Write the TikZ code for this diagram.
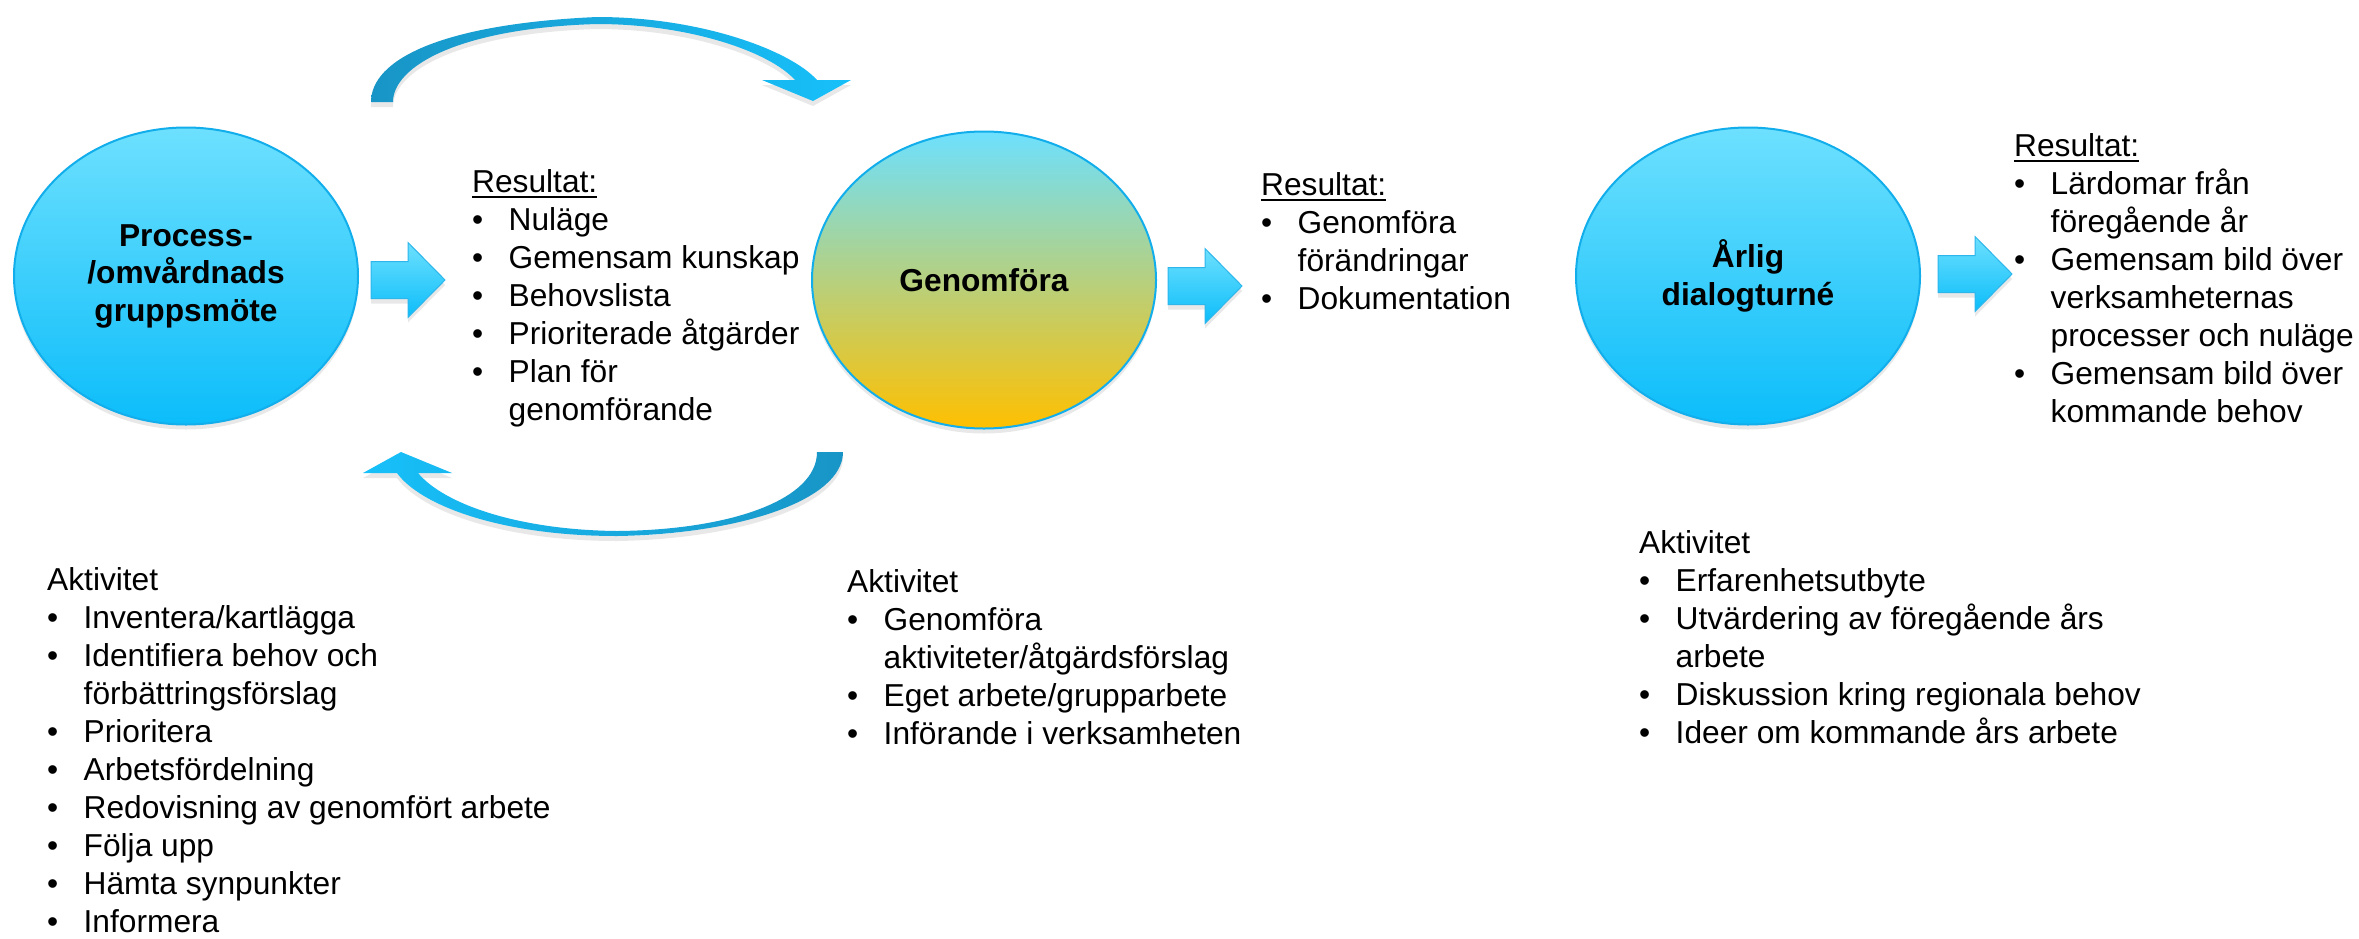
\documentclass[tikz,border=0pt]{standalone}
\usepackage{fontspec}
\setmainfont{Liberation Sans}
\usetikzlibrary{shapes.geometric,shadows}
\definecolor{cyTop}{HTML}{6DE0FE}
\definecolor{cyBot}{HTML}{0CBDFA}
\definecolor{cyLine}{HTML}{12AEEC}
\definecolor{goldBot}{HTML}{FFC000}
\definecolor{midG}{HTML}{C4D3B8}
\definecolor{arcDark}{HTML}{1895C6}
\definecolor{arcMid}{HTML}{4FCCF3}
\definecolor{arcBright}{HTML}{17C0FA}
\definecolor{arLine}{HTML}{2CB6EC}
\newcommand\myul[1]{\setbox0\hbox{#1}\rlap{\rule[-5.5pt]{\wd0}{2pt}}\box0}
\newcommand\bl{\makebox[36.5pt][l]{\textbullet}}
\newcommand\ind{\hspace*{36.5pt}}
\tikzset{
  blk/.style={anchor=base west, inner sep=0pt, font=\fontsize{31.7}{38}\selectfont},
  softshadow/.style={drop shadow={shadow xshift=0pt, shadow yshift=-5pt, opacity=0.18}},
  bubble/.style={ellipse, draw=cyLine, line width=2pt, top color=cyTop, bottom color=cyBot,
    minimum width=344pt, minimum height=297pt, inner sep=0pt, align=center,
    font=\fontsize{31.7}{37.5}\selectfont\bfseries, softshadow},
  goldbubble/.style={bubble, top color=cyTop, middle color=midG, bottom color=goldBot},
  barrow/.style={top color=cyTop, bottom color=cyBot, draw=arLine, line width=1pt, softshadow},
  blockarrow/.pic={\path[barrow] (0,-18.5) -- (37,-18.5) -- (37,-37.5) -- (74,0) -- (37,37.5) -- (37,18.5) -- (0,18.5) -- cycle;},
  toparc/.style={left color=arcDark, middle color=arcMid, right color=arcBright, softshadow},
  botarc/.style={left color=arcBright, middle color=arcMid, right color=arcDark, softshadow}
}
\begin{document}
\begin{tikzpicture}[x=1pt,y=-1pt]
\fill[white] (0,0) rectangle (2359,938);
\useasboundingbox (0,0) rectangle (2359,938);

% ellipses
\node[bubble] (p1) at (186,276) {Process-\\/omvårdnads\\gruppsmöte};
\node[goldbubble] (p2) at (984,280) {Genomföra};
\node[bubble] (p3) at (1748,276) {Årlig\\dialogturné};

% block arrows
\pic at (371,280) {blockarrow};
\pic at (1168,286) {blockarrow};
\pic at (1938,274) {blockarrow};

% curved arrows
\path[toparc] (371,102) .. controls (371,60) and (440,24) .. (597,17)
  .. controls (700,17) and (790,50) .. (817,80) -- (851,80) -- (813,101) -- (762,80) -- (795,80)
  .. controls (770,52) and (690,24) .. (597,24) .. controls (460,28) and (393,66) .. (393,102) -- cycle;
\path[botarc] (843,452) .. controls (843,500) and (740,534) .. (617,536)
  .. controls (500,536) and (420,505) .. (397,473) -- (363,473) -- (401,452) -- (452,473) -- (418,473)
  .. controls (445,505) and (520,530) .. (617,531) .. controls (730,530) and (817,500) .. (817,452) -- cycle;

% result texts
\node[blk] (resA) at (472,192) {\begin{tabular}[t]{@{}l@{}}\myul{Resultat:}\\ \bl Nuläge\\ \bl Gemensam kunskap\\ \bl Behovslista\\ \bl Prioriterade åtgärder\\ \bl Plan för\\ \ind genomförande\end{tabular}};
\node[blk] (resB) at (1261,195) {\begin{tabular}[t]{@{}l@{}}\myul{Resultat:}\\ \bl Genomföra\\ \ind förändringar\\ \bl Dokumentation\end{tabular}};
\node[blk] (resC) at (2014,156) {\begin{tabular}[t]{@{}l@{}}\myul{Resultat:}\\ \bl Lärdomar från\\ \ind föregående år\\ \bl Gemensam bild över\\ \ind verksamheternas\\ \ind processer och nuläge\\ \bl Gemensam bild över\\ \ind kommande behov\end{tabular}};

% activity texts
\node[blk] (aktA) at (47,590) {\begin{tabular}[t]{@{}l@{}}Aktivitet\\ \bl Inventera/kartlägga\\ \bl Identifiera behov och\\ \ind förbättringsförslag\\ \bl Prioritera\\ \bl Arbetsfördelning\\ \bl Redovisning av genomfört arbete\\ \bl Följa upp\\ \bl Hämta synpunkter\\ \bl Informera\end{tabular}};
\node[blk] (aktB) at (847,592) {\begin{tabular}[t]{@{}l@{}}Aktivitet\\ \bl Genomföra\\ \ind aktiviteter/åtgärdsförslag\\ \bl Eget arbete/grupparbete\\ \bl Införande i verksamheten\end{tabular}};
\node[blk] (aktC) at (1639,553) {\begin{tabular}[t]{@{}l@{}}Aktivitet\\ \bl Erfarenhetsutbyte\\ \bl Utvärdering av föregående års\\ \ind arbete\\ \bl Diskussion kring regionala behov\\ \bl Ideer om kommande års arbete\end{tabular}};
\end{tikzpicture}
\end{document}
